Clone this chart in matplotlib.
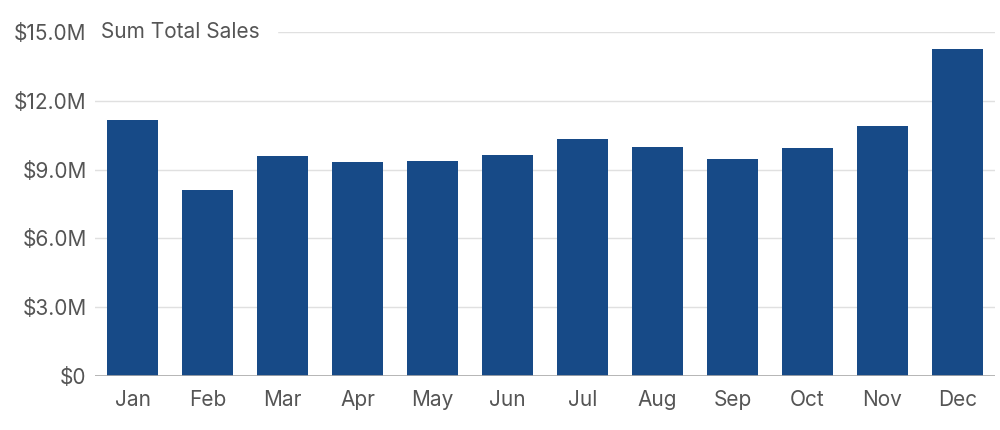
import matplotlib
matplotlib.use('Agg')
import matplotlib.pyplot as plt
from matplotlib.ticker import FuncFormatter

plt.rcParams['font.family'] = ['Inter', 'DejaVu Sans']

months = ['Jan', 'Feb', 'Mar', 'Apr', 'May', 'Jun', 'Jul', 'Aug', 'Sep', 'Oct', 'Nov', 'Dec']
sales_m = [11.16, 8.11, 9.59, 9.33, 9.38, 9.64, 10.34, 9.99, 9.46, 9.94, 10.90, 14.26]
yticks = [0, 3, 6, 9, 12, 15]

fig = plt.figure(figsize=(10, 4.3), dpi=100)
ax = fig.add_axes([0.095, 1 - 376 / 430, 0.90, 344 / 430])

x = range(len(months))
ax.bar(x, sales_m, width=0.69, color='#174a87', zorder=3)

ax.set_xlim(-0.5, len(months) - 0.5)
ax.set_ylim(0, 15)
ax.set_yticks(yticks)
ax.yaxis.set_major_formatter(FuncFormatter(lambda v, p: '$0' if v == 0 else f'${v:.1f}M'))
ax.set_xticks(list(x))
ax.set_xticklabels(months)
ax.grid(axis='y', color='#e0e0e0', linewidth=1, zorder=0)
ax.axhline(0, color='#aaaaaa', linewidth=1.2, zorder=4)
for s in ax.spines.values():
    s.set_visible(False)
ax.tick_params(axis='both', length=0, labelsize=15, labelcolor='#555555')
ax.tick_params(axis='y', pad=6)
ax.tick_params(axis='x', pad=10)

ax.text(-0.5, 15, ' Sum Total Sales  ', fontsize=15, color='#555555', va='center', ha='left',
        backgroundcolor='white', zorder=5)

fig.savefig('out.png', dpi=100)
